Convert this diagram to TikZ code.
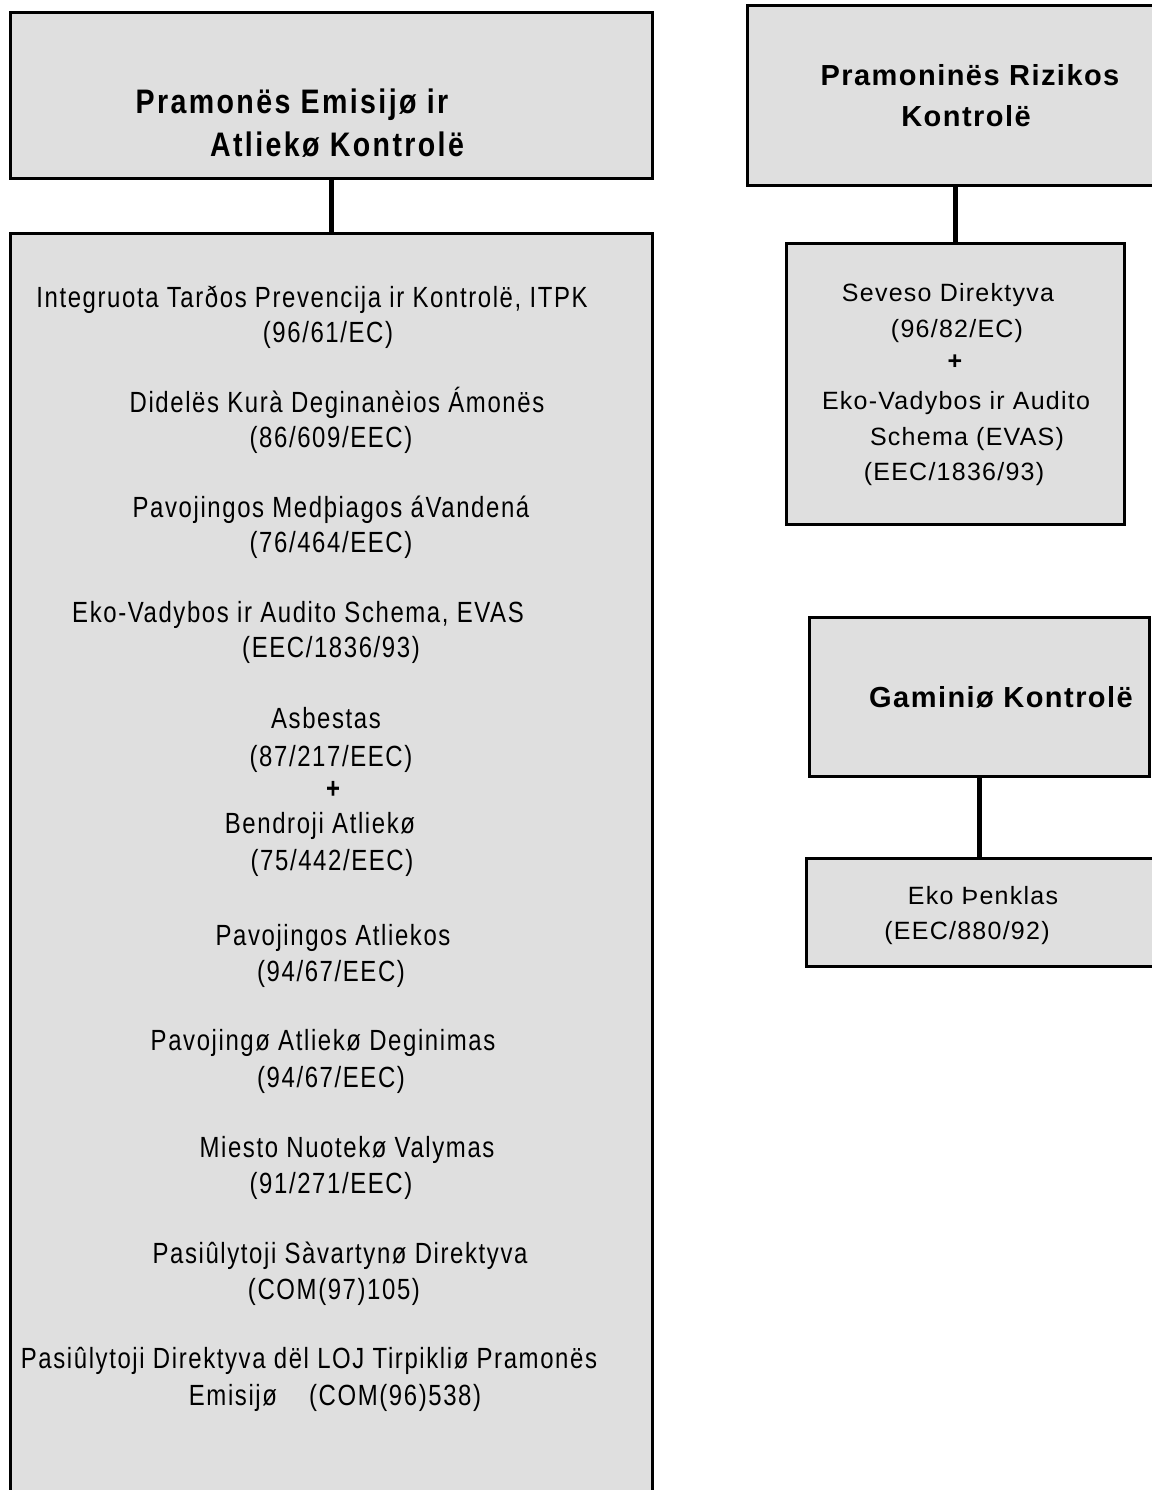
\documentclass[tikz,border=0pt]{standalone}
\usepackage{fontspec}
\setmainfont{Liberation Sans}
\newfontfamily\condfont{Liberation Sans}[FakeStretch=0.82,LetterSpace=5.5]
\newfontfamily\headfont{Liberation Sans}[FakeStretch=0.84,LetterSpace=7]
\newfontfamily\spacedfont{Liberation Sans}[LetterSpace=5]
\usetikzlibrary{fit}
\definecolor{boxgrey}{HTML}{DFDFDF}
\tikzset{
  panel/.style={draw=black, fill=boxgrey, line width=1.5pt, inner sep=0pt, outer sep=0pt},
  link/.style={line width=2.5pt},
  entry/.style={anchor=base, inner sep=0pt, font=\condfont\fontsize{14.6}{17}\selectfont},
  mainhead/.style={anchor=base, inner sep=0pt, font=\headfont\bfseries\fontsize{17}{20}\selectfont},
  sidehead/.style={anchor=base, inner sep=0pt, font=\spacedfont\bfseries\fontsize{14.5}{17}\selectfont},
  sideentry/.style={anchor=base, inner sep=0pt, font=\spacedfont\fontsize{12.5}{15}\selectfont},
}
\begin{document}
\begin{tikzpicture}[x=0.5pt, y=-0.5pt]
  \useasboundingbox (0,0) rectangle (1152,1490);
  \fill[white] (0,0) rectangle (1152,1490);
  \clip (0,0) rectangle (1152,1490);

  % left column: emissions and waste control
  \node[panel, fit={(10,12) (652,178)}] (emis) {};
  \node[panel, fit={(10,233) (652,1530)}] (emislist) {};
  \draw[link] (emis.south) -- (emislist.north);

  \node[mainhead] (h1a) at (292,113) {Pramonës Emisijø ir};
  \node[mainhead] (h1b) at (337,156) {Atliekø Kontrolë};

  \node[entry] (l1)  at (312,307)  {Integruota Tarðos Prevencija ir Kontrolë, ITPK};
  \node[entry] (l2)  at (328,342)  {(96/61/EC)};
  \node[entry] (l3)  at (337,412)  {Didelës Kurà Deginanèios Ámonës};
  \node[entry] (l4)  at (331,447)  {(86/609/EEC)};
  \node[entry] (l5)  at (331,517)  {Pavojingos Medþiagos áVandená};
  \node[entry] (l6)  at (331,552)  {(76/464/EEC)};
  \node[entry] (l7)  at (298,622)  {Eko-Vadybos ir Audito Schema, EVAS};
  \node[entry] (l8)  at (331,657)  {(EEC/1836/93)};
  \node[entry] (l9)  at (326,728)  {Asbestas};
  \node[entry] (l10) at (331,766)  {(87/217/EEC)};
  \node[entry, font=\condfont\bfseries\fontsize{14.6}{17}\selectfont] (l11) at (333,798) {+};
  \node[entry] (l12) at (320,833)  {Bendroji Atliekø};
  \node[entry] (l13) at (332,870)  {(75/442/EEC)};
  \node[entry] (l14) at (333,945)  {Pavojingos Atliekos};
  \node[entry] (l15) at (331,981)  {(94/67/EEC)};
  \node[entry] (l16) at (323,1050) {Pavojingø Atliekø Deginimas};
  \node[entry] (l17) at (331,1087) {(94/67/EEC)};
  \node[entry] (l18) at (347,1157) {Miesto Nuotekø Valymas};
  \node[entry] (l19) at (331,1193) {(91/271/EEC)};
  \node[entry] (l20) at (340,1263) {Pasiûlytoji Sàvartynø Direktyva};
  \node[entry] (l21) at (334,1299) {(COM(97)105)};
  \node[entry] (l22) at (309,1368) {Pasiûlytoji Direktyva dël LOJ Tirpikliø Pramonës};
  \node[entry] (l23) at (335,1405) {Emisijø\hspace{1.1em}(COM(96)538)};

  % right column: industrial risk control
  \node[panel, fit={(747,5) (1170,185)}] (risk) {};
  \node[panel, fit={(786,243) (1124,524)}] (risklist) {};
  \draw[link] (risklist.north) -- (risklist.north |- risk.south);

  \node[sidehead] (h2a) at (970,85)  {Pramoninës Rizikos};
  \node[sidehead] (h2b) at (966,126) {Kontrolë};

  \node[sideentry] (r1) at (948,301) {Seveso Direktyva};
  \node[sideentry] (r2) at (957,337) {(96/82/EC)};
  \node[sideentry, font=\spacedfont\bfseries\fontsize{12.5}{15}\selectfont] (r3) at (955,369) {+};
  \node[sideentry] (r4) at (956,409) {Eko-Vadybos ir Audito};
  \node[sideentry] (r5) at (967,445) {Schema (EVAS)};
  \node[sideentry] (r6) at (954,480) {(EEC/1836/93)};

  % right column: product control
  \node[panel, fit={(809,617) (1149,776)}] (prod) {};
  \node[panel, fit={(806,858) (1170,966)}] (prodlist) {};
  \draw[link] (prod.south) -- (prod.south |- prodlist.north);

  \node[sidehead] (h3) at (1001,707) {Gaminiø Kontrolë};

  \node[sideentry] (p1) at (983,904) {Eko Þenklas};
  \node[sideentry] (p2) at (967,939) {(EEC/880/92)};
\end{tikzpicture}
\end{document}
